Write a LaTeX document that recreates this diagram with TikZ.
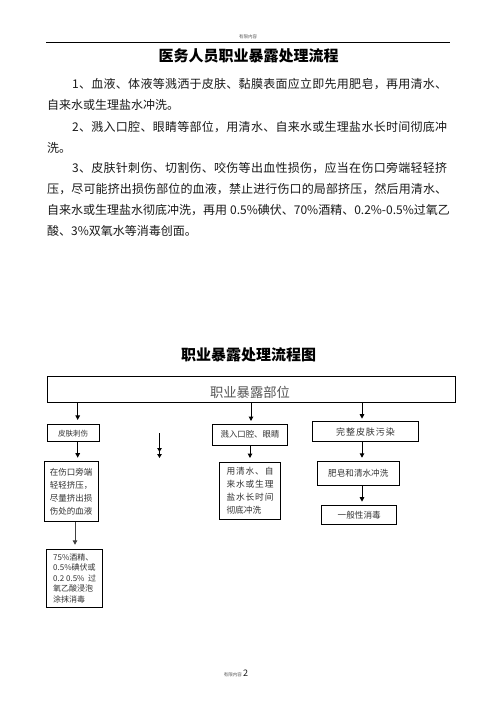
\documentclass[tikz,border=0pt]{standalone}
\usepackage{fontspec}
\setmainfont{Noto Sans CJK SC}
\usetikzlibrary{arrows.meta}
\makeatletter
\def\sprd@end{\sprd@end}
\def\sprd@loop#1{\ifx#1\sprd@end\else\hskip0pt plus 1fil\relax#1\expandafter\sprd@loop\fi}
\def\sprd@first#1{#1\sprd@loop}
\newcommand\spreadtext[2]{\makebox[#1][s]{\sprd@first#2\sprd@end}}
\makeatother
\newcommand\fsz[1]{\fontsize{#1}{#1}\selectfont}
\newcommand\fszb[2]{\fontsize{#1}{#2}\selectfont}
\definecolor{bodyc}{HTML}{1A1A1A}
\definecolor{boxc}{HTML}{333333}
\definecolor{headc}{HTML}{555555}
\tikzset{
  txt/.style={inner sep=0pt, anchor=west, text height=0.8em, text depth=0.08em, font=\fsz{12}, text=bodyc},
  ttl/.style={inner sep=0pt, text height=0.8em, text depth=0.08em, font=\fsz{15}\bfseries, text=black},
  box/.style={draw=black, line width=1pt, inner sep=0pt, text=boxc},
  arr/.style={draw=black, line width=1pt, -{Triangle[length=4.5pt,width=4.5pt]}},
}
\begin{document}
\begin{tikzpicture}[x=1pt,y=-1pt]
\useasboundingbox[fill=white] (0,0) rectangle (496,702);
% header
\node[inner sep=0pt, font=\fsz{4.5}, text=headc] (hdr) at (248,37) {有限内容};
\coordinate (hl) at (46,42.3);
\coordinate (hr) at (450,42.3);
\draw[line width=0.9pt] (hl) -- (hr);
% title
\node[ttl] (t1) at (248.5,58) {医务人员职业暴露处理流程};
% paragraphs
\node[txt] (p1) at (72,85) {\spreadtext{375pt}{1、血液、体液等溅洒于皮肤、黏膜表面应立即先用肥皂，再用清水、}};
\node[txt] (p2) at (47,106) {自来水或生理盐水冲洗。};
\node[txt] (p3) at (72,128) {\spreadtext{375pt}{2、溅入口腔、眼睛等部位，用清水、自来水或生理盐水长时间彻底冲}};
\node[txt] (p4) at (47,148.5) {洗。};
\node[txt] (p5) at (72,169) {\spreadtext{375pt}{3、皮肤针刺伤、切割伤、咬伤等出血性损伤，应当在伤口旁端轻轻挤}};
\node[txt] (p6) at (47,190) {\spreadtext{400pt}{压，尽可能挤出损伤部位的血液，禁止进行伤口的局部挤压，然后用清水、}};
\node[txt] (p7) at (47,211) {\makebox[400pt][s]{\spreadtext{180pt}{自来水或生理盐水彻底冲洗，再用}\hskip 3pt plus 1fil 0.5\%\hskip0pt plus 1fil\spreadtext{36pt}{碘伏、}\hskip0pt plus 1fil 70\%\hskip0pt plus 1fil\spreadtext{36pt}{酒精、}\hskip0pt plus 1fil 0.2\%-0.5\%\hskip0pt plus 1fil\spreadtext{36pt}{过氧乙}}};
\node[txt] (p8) at (47,232) {酸、3\%双氧水等消毒创面。};
% second title
\node[ttl] (t2) at (248.5,356.5) {职业暴露处理流程图};
% top box
\node[box, minimum width=408pt, minimum height=26.5pt] (top) at (251,389.25) {};
\node[inner sep=0pt, font=\fsz{13.3}, text=headc] (toplbl) at (250,392) {职业暴露部位};
% row 2
\node[box, minimum width=52pt, minimum height=16.7pt, font=\fsz{7.5}] (b1) at (73,433.3) {皮肤刺伤};
\node[box, minimum width=74.6pt, minimum height=21pt, font=\fsz{8.4}] (b2) at (250,434.5) {溅入口腔、眼睛};
\node[box, minimum width=105.6pt, minimum height=20pt, font=\fsz{9}] (b3) at (365.5,431.7) {\spreadtext{59pt}{完整皮肤污染}};
\coordinate (ax1) at (77.7,0);
\coordinate (ax2) at (251,0);
\coordinate (ax3) at (362,0);
\draw[arr, shorten >=4.5pt] (top.south -| ax1) -- (b1.north -| ax1);
\draw[arr, shorten >=2.5pt] (top.south -| ax2) -- (b2.north -| ax2);
\draw[arr, shorten >=2.5pt] (top.south -| ax3) -- (b3.north -| ax3);
% stray double arrow
\coordinate (s1) at (159.5,433.3);
\coordinate (s2) at (159.5,458);
\draw[line width=1pt, -{Triangle[length=4pt,width=4.5pt,sep=2pt]Triangle[length=4pt,width=4.5pt]}] (s1) -- (s2);
% row 3
\node[box, minimum width=54.3pt, minimum height=60pt, align=left, font=\fszb{8.5}{13}] (c1) at (71.2,491.7) {在伤口旁端\\轻轻挤压，\\尽量挤出损\\伤处的血液};
\node[box, minimum width=61.4pt, minimum height=57pt, align=left, font=\fszb{8.7}{13}] (c2) at (250,490.5) {\spreadtext{47pt}{用清水、自}\\\spreadtext{47pt}{来水或生理}\\\spreadtext{47pt}{盐水长时间}\\彻底冲洗};
\node[box, minimum width=82pt, minimum height=23.3pt, font=\fsz{8.6}] (c3) at (358.3,473.4) {肥皂和清水冲洗};
\node[box, minimum width=75pt, minimum height=18.6pt, font=\fsz{8.6}] (d3) at (359.2,515) {一般性消毒};
\coordinate (bx1) at (77.7,0);
\coordinate (bx2) at (250,0);
\coordinate (bx3) at (362,0);
\coordinate (bx4) at (75,0);
\draw[arr, shorten >=3.5pt] (b1.south -| bx1) -- (c1.north -| bx1);
\draw[arr, shorten >=3.5pt] (b2.south -| bx2) -- (c2.north -| bx2);
\draw[arr, shorten >=3.5pt] (b3.south -| bx3) -- (c3.north -| bx3);
\draw[arr, shorten >=3.5pt] (c3.south -| bx3) -- (d3.north -| bx3);
% row 4
\node[box, minimum width=56pt, minimum height=58pt, align=left, font=\fszb{8}{10.5}] (d1) at (74.7,578.3) {75\%酒精、\\0.5\%碘伏或\\\makebox[43pt][l]{0.2 0.5\%\hfill 过}\\氧乙酸浸泡\\涂抹消毒};
\draw[arr, draw=black!75, shorten >=4pt] (c1.south -| bx4) -- (d1.north -| bx4);
% footer
\node[inner sep=0pt, font=\fsz{4.5}, text=headc, anchor=east] (ftr) at (242,675) {有限内容};
\node[inner sep=0pt, font=\fsz{9}, text=bodyc, anchor=west] (pg) at (243,673.5) {2};
\end{tikzpicture}
\end{document}
